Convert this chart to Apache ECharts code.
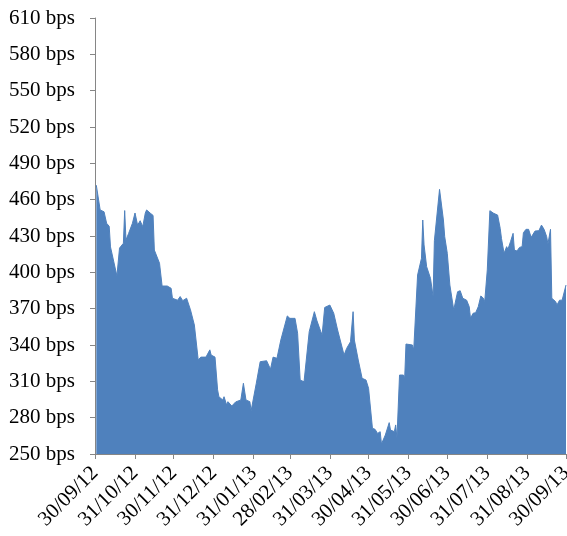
<!DOCTYPE html>
<html>
<head>
<meta charset="utf-8">
<script src="https://cdn.jsdelivr.net/npm/echarts@6/dist/echarts.min.js"></script>
<style>html,body{margin:0;padding:0;background:#fff}#c{width:567px;height:536px}</style>
</head>
<body>
<div id="c"></div>
<script>
var dates = ['2012-10-01','2012-10-02','2012-10-04','2012-10-07','2012-10-08','2012-10-09','2012-10-11','2012-10-12','2012-10-17','2012-10-19','2012-10-22','2012-10-23','2012-10-24','2012-10-26','2012-10-29','2012-10-31',
'2012-11-02','2012-11-04','2012-11-06','2012-11-08','2012-11-09','2012-11-12','2012-11-14','2012-11-15','2012-11-19','2012-11-21','2012-11-25','2012-11-26','2012-11-28','2012-11-29',
'2012-12-03','2012-12-05','2012-12-07','2012-12-10','2012-12-13','2012-12-16','2012-12-19','2012-12-21','2012-12-25','2012-12-28','2012-12-29',
'2013-01-01','2013-01-03','2013-01-04','2013-01-07','2013-01-08','2013-01-10','2013-01-11','2013-01-14','2013-01-17','2013-01-21','2013-01-23','2013-01-25','2013-01-28','2013-01-29',
'2013-02-02','2013-02-05','2013-02-10','2013-02-13','2013-02-15','2013-02-18','2013-02-21','2013-02-26','2013-02-28',
'2013-03-04','2013-03-06','2013-03-08','2013-03-11','2013-03-15','2013-03-19','2013-03-21','2013-03-24','2013-03-25','2013-03-26','2013-03-27','2013-03-31',
'2013-04-03','2013-04-04','2013-04-06','2013-04-11','2013-04-13','2013-04-16','2013-04-18','2013-04-19','2013-04-22','2013-04-25','2013-04-28','2013-04-30',
'2013-05-03','2013-05-05','2013-05-07','2013-05-09','2013-05-10','2013-05-13','2013-05-14','2013-05-16','2013-05-17','2013-05-20','2013-05-21','2013-05-22','2013-05-24','2013-05-27','2013-05-28','2013-05-29',
'2013-06-03','2013-06-04','2013-06-07','2013-06-10','2013-06-11','2013-06-12','2013-06-14','2013-06-17','2013-06-19','2013-06-20','2013-06-21','2013-06-24','2013-06-27','2013-06-28','2013-06-30',
'2013-07-02','2013-07-03','2013-07-05','2013-07-08','2013-07-10','2013-07-12','2013-07-15','2013-07-17','2013-07-18','2013-07-20','2013-07-22','2013-07-24','2013-07-26','2013-07-28','2013-07-29','2013-07-31',
'2013-08-02','2013-08-05','2013-08-08','2013-08-10','2013-08-11','2013-08-13','2013-08-15','2013-08-16','2013-08-18','2013-08-20','2013-08-21','2013-08-23','2013-08-25','2013-08-27','2013-08-28','2013-08-30',
'2013-09-01','2013-09-03','2013-09-06','2013-09-09','2013-09-11','2013-09-13','2013-09-15','2013-09-16','2013-09-18','2013-09-19','2013-09-22','2013-09-23','2013-09-25','2013-09-27','2013-09-30'];

var spreads = [472,473,451.5,450,449,440.5,438,421,397,420,424,451,426.7,432,440.5,449,
439,442.6,437.7,449,451.5,448.7,447,418.4,407.5,388.7,388.7,389.5,386.8,378.6,
377,380,376.6,378.6,369,356.5,327.6,330,330,336,331.7,
330,303,297.3,294.6,297.3,290.5,293.2,289.6,293,294.6,308.4,294.6,293.2,285.8,
308.4,326.2,327,320,330,329,344.1,364,362,
362,349.7,311,309.7,351,367.5,360,351,348.3,347,371,373,
366.2,365.6,352.4,331.7,337.2,342.7,367.5,344.1,327.6,312.5,311.1,304.2,
271.2,270.4,267,268.4,258.3,265.7,267,275.9,269.8,268.4,274,263,315.2,315.2,313,340.8,
340,336,397.8,411.6,443.2,422.6,404.7,395,380,426.1,425,468.5,443.2,429.5,415.7,
389.5,388,369,384,384.8,378.6,377,371.6,362,366.2,366.7,371.6,380.5,378.6,375.8,402,
450.9,448.7,447.3,436.3,428,415.7,421.2,419,425.3,432.2,418.4,417.6,420.6,421.2,432.7,435.5,
435.5,428.9,434.1,434.4,439,435.5,429.5,423.4,435.5,378.6,375.8,373,377,377,389.5];

var xTickDates = ['2012-09-30','2012-10-31','2012-11-30','2012-12-31','2013-01-31','2013-02-28','2013-03-31','2013-04-30','2013-05-31','2013-06-30','2013-07-31','2013-08-31','2013-09-30'];
var yMin = 250, yMax = 610, yStep = 30;
var yUnit = ' bps';

// dates are placed on a linear day scale counted from the first tick date
var DAY = 86400000;
function utc(s){ var p = s.split('-'); return Date.UTC(+p[0], +p[1]-1, +p[2]); }
var t0 = utc(xTickDates[0]);
function dayNum(s){ return Math.round((utc(s) - t0) / DAY); }
function pad(n){ return (n<10?'0':'')+n; }
function fmtDay(v){ var d = new Date(t0 + v * DAY); return pad(d.getUTCDate())+'/'+pad(d.getUTCMonth()+1)+'/'+String(d.getUTCFullYear()).slice(2); }

var seriesData = dates.map(function(d,i){ return [dayNum(d), spreads[i]]; });
var tickDays = xTickDates.map(dayNum);

var chart = echarts.init(document.getElementById('c'), null, {renderer:'canvas'});
var font = '"Liberation Serif", "Times New Roman", serif';
chart.setOption({
  animation: false,
  backgroundColor: '#ffffff',
  grid: {left: 95, right: 1, top: 18, bottom: 82, containLabel: false, outerBoundsMode: 'none'},
  xAxis: {
    type: 'value',
    min: tickDays[0],
    max: tickDays[tickDays.length-1],
    splitLine: {show:false},
    axisLine: {show:true, onZero:false, lineStyle:{color:'#868686', width:1}},
    axisTick: {show:true, length:5, lineStyle:{color:'#868686'}, customValues: tickDays},
    axisLabel: {
      customValues: tickDays,
      rotate: 45,
      margin: 16,
      fontFamily: font,
      fontSize: 21,
      color: '#000',
      hideOverlap: false,
      formatter: fmtDay
    }
  },
  yAxis: {
    type: 'value',
    min: yMin, max: yMax, interval: yStep,
    splitLine: {show:false},
    axisLine: {show:true, lineStyle:{color:'#868686', width:1}},
    axisTick: {show:true, length:5, lineStyle:{color:'#868686'}},
    axisLabel: {margin: 20, fontFamily: font, fontSize: 21, color:'#000', formatter: function(v){ return v + yUnit; }}
  },
  series: [{
    type: 'line',
    data: seriesData,
    showSymbol: false,
    symbol: 'none',
    lineStyle: {color:'#4F81BD', width:1},
    areaStyle: {color:'#4F81BD', opacity:1, origin:'start'},
    itemStyle: {color:'#4F81BD'}
  }]
});
</script>
</body>
</html>
